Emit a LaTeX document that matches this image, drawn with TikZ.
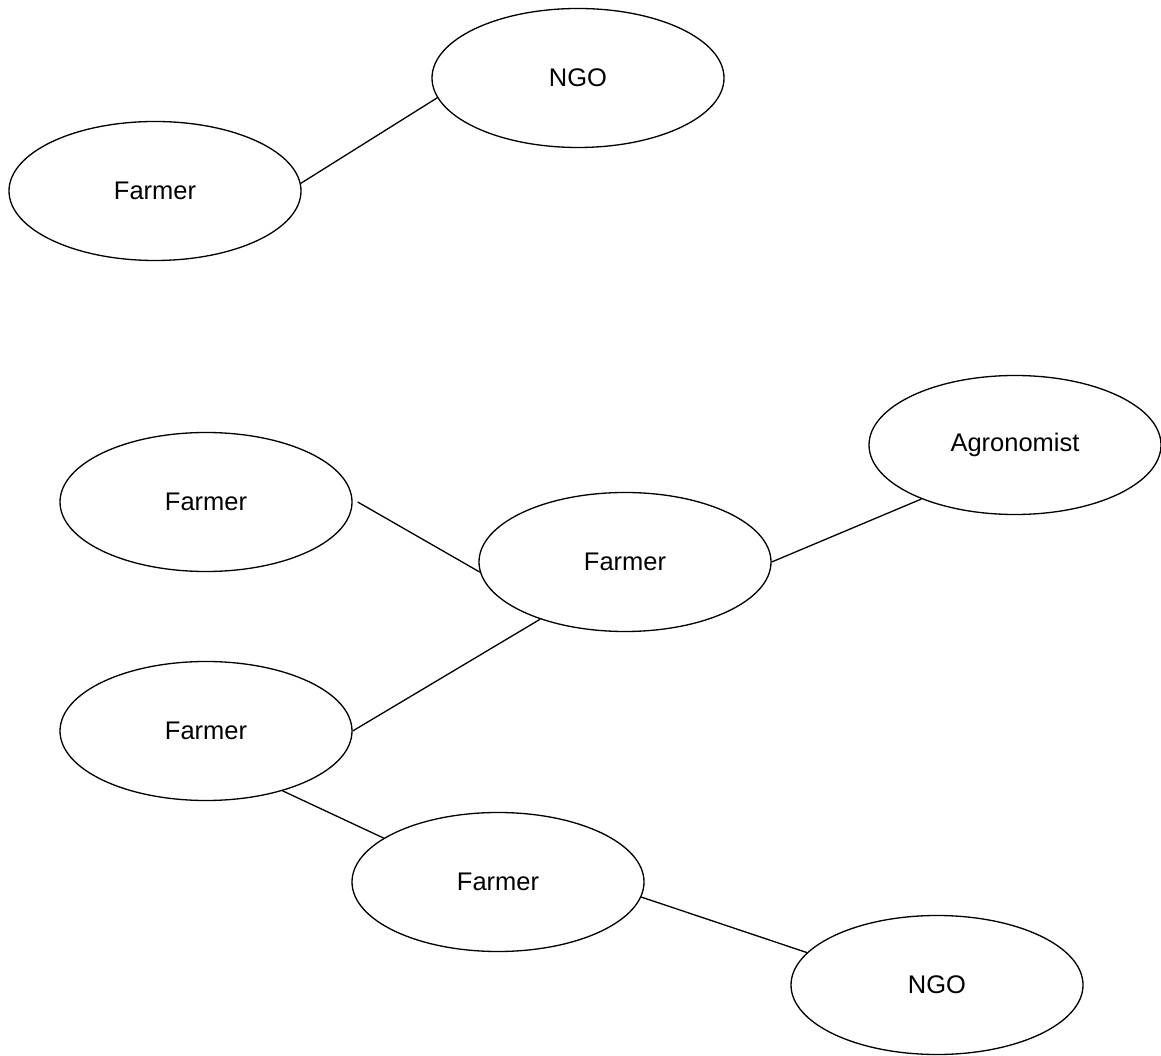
\documentclass[tikz,border=0pt]{standalone}
\usepackage{fontspec}
\setmainfont{Liberation Sans}
\usetikzlibrary{shapes.geometric}

\begin{document}
\begin{tikzpicture}[
    actor/.style ={ellipse, draw, line width=0.75pt, inner sep=0pt,
      minimum width=5.84cm, minimum height=2.78cm,
      font=\fontsize{14.5}{17}\selectfont},
    link/.style ={line width=0.75pt}]
   \useasboundingbox (0,0) rectangle (23.22,21.10);
   \node[actor] (ngoA)   at (11.56,19.54) {NGO};
   \node[actor] (farmA)  at (3.10,17.28)  {Farmer};
   \node[actor] (farmB)  at (4.12,11.06)  {Farmer};
   \node[actor] (farmC)  at (12.50,9.86)  {Farmer};
   \node[actor] (agro)   at (20.30,12.20) {Agronomist};
   \node[actor] (farmD)  at (4.12,6.48)   {Farmer};
   \node[actor] (farmE)  at (9.96,3.46)   {Farmer};
   \node[actor] (ngoB)   at (18.74,1.40)  {NGO};
   \draw[link] (farmA.3)   to (ngoA.188);
   \draw[link] ([xshift=0.1cm]farmB.east) to (farmC.184);
   \draw[link] (farmC.east) to (agro.210);
   \draw[link] (farmD.east) to (farmC.214);
   \draw[link] (farmD.322) to (farmE.159);
   \draw[link] (farmE.354) to (ngoB.166);
\end{tikzpicture}
\end{document}
